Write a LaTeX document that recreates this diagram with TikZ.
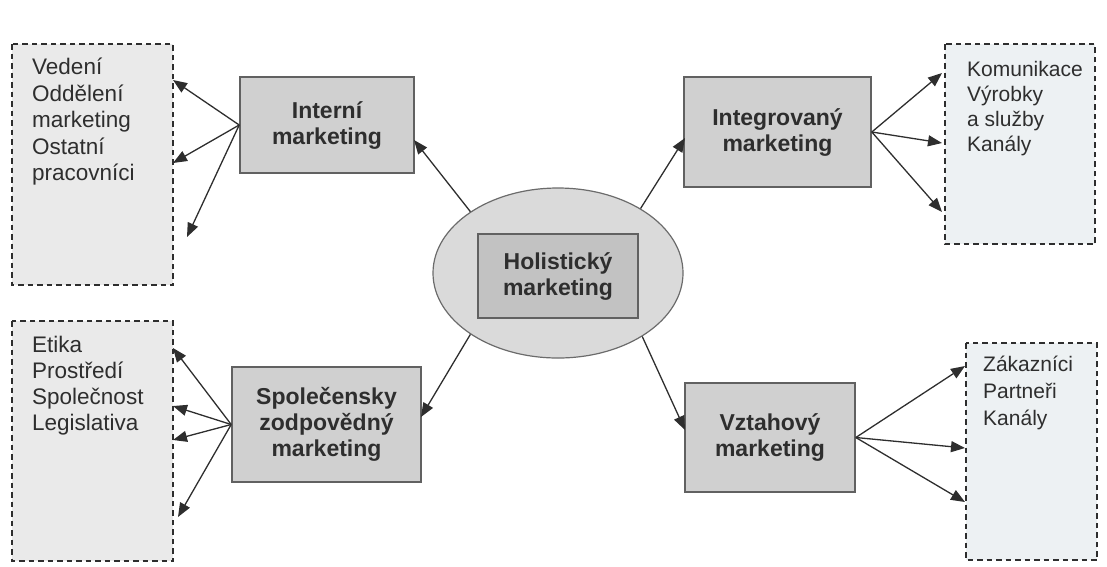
\documentclass[tikz,border=0pt]{standalone}
\usepackage{fontspec}
\setmainfont{Liberation Sans}
\usetikzlibrary{arrows.meta,shapes.geometric,positioning}

\definecolor{boxgray}{HTML}{D0D0D0}
\definecolor{ovalgray}{HTML}{DADADA}
\definecolor{listgray}{HTML}{EAEAEA}
\definecolor{listblue}{HTML}{EDF1F3}
\definecolor{inkgray}{HTML}{2E2E2E}

\begin{document}
\begin{tikzpicture}[x=1pt,y=-1pt,
    kbox/.style={draw=black!62,line width=1.6pt,fill=boxgray,inner sep=0pt,
      font=\bfseries\fontsize{23}{26}\selectfont,text=inkgray,align=center},
    lbox/.style={draw=inkgray,dashed,dash pattern=on 5.5pt off 4pt,line width=1.4pt},
    item/.style={anchor=north west,inner sep=0pt,align=left,text=inkgray},
    arr/.style={line width=1.3pt,draw=inkgray,-{Triangle[length=14pt,width=11pt]}}]
       \useasboundingbox (0,0) rectangle (1107,566);
       % lists
       \draw[lbox,fill=listgray] (12,44) rectangle (173,285);
       \draw[lbox,fill=listgray] (12,321) rectangle (173,561);
       \draw[lbox,fill=listblue] (945,44) rectangle (1095,244);
       \draw[lbox,fill=listblue] (966,343) rectangle (1097,560);
       \node[item,font=\fontsize{22.5}{26.5}\selectfont] (vedeni) at (32,58) {Vedení\\Oddělení\\marketing\\Ostatní\\pracovníci};
       \node[item,font=\fontsize{22.5}{26}\selectfont] (etika) at (32,336) {Etika\\Prostředí\\Společnost\\Legislativa};
       \node[item,font=\fontsize{21}{25}\selectfont] (komunikace) at (967,61) {Komunikace\\Výrobky\\a služby\\Kanály};
       \node[item,font=\fontsize{21}{27}\selectfont] (zakaznici) at (983,356) {Zákazníci\\Partneři\\Kanály};
       % centre
       \node[ellipse,draw=black!58,line width=1.2pt,fill=ovalgray,minimum width=250pt,minimum height=170pt,inner sep=0pt] (holi) at (558,273) {};
       \node[kbox,fill=black!24,line width=1.2pt,minimum width=160pt,minimum height=84pt] (holistic) at (558,276) {Holistický\\marketing};
       % four kinds
       \node[kbox,minimum width=174pt,minimum height=96pt] (interni) at (327,125) {Interní\\marketing};
       \node[kbox,minimum width=187pt,minimum height=110pt] (integ) at (777.5,132) {Integrovaný\\marketing};
       \node[kbox,minimum width=189pt,minimum height=115pt] (spol) at (326.5,424.5) {Společensky\\zodpovědný\\marketing};
       \node[kbox,minimum width=170pt,minimum height=109pt] (vztah) at (770,437.5) {Vztahový\\marketing};
       % arrow ends
       \coordinate (hInt) at (414,140);
       \coordinate (hIntg) at (685,138);
       \coordinate (hSpol) at (421,417);
       \coordinate (hVzt) at (685,430);
       \coordinate (v1) at (173,80);
       \coordinate (v2) at (173,163);
       \coordinate (v3) at (187,237);
       \coordinate (e1) at (173,348);
       \coordinate (e2) at (173,406);
       \coordinate (e3) at (173,440);
       \coordinate (e4) at (178,517);
       \coordinate (k1) at (942,73);
       \coordinate (k2) at (942,143);
       \coordinate (k3) at (942,212);
       \coordinate (z1) at (965,366);
       \coordinate (z2) at (965,448);
       \coordinate (z3) at (965,502);
       \draw[arr] (holi.145) -- (hInt);
       \draw[arr] (holi.38) -- (hIntg);
       \draw[arr] (holi.215) -- (hSpol);
       \draw[arr] (holi.323) -- (hVzt);
       \draw[arr] (interni.west) -- (v1);
       \draw[arr] (interni.west) -- (v2);
       \draw[arr] (interni.west) -- (v3);
       \draw[arr] (spol.west) -- (e1);
       \draw[arr] (spol.west) -- (e2);
       \draw[arr] (spol.west) -- (e3);
       \draw[arr] (spol.west) -- (e4);
       \draw[arr] (integ.east) -- (k1);
       \draw[arr] (integ.east) -- (k2);
       \draw[arr] (integ.east) -- (k3);
       \draw[arr] (vztah.east) -- (z1);
       \draw[arr] (vztah.east) -- (z2);
       \draw[arr] (vztah.east) -- (z3);
\end{tikzpicture}
\end{document}
